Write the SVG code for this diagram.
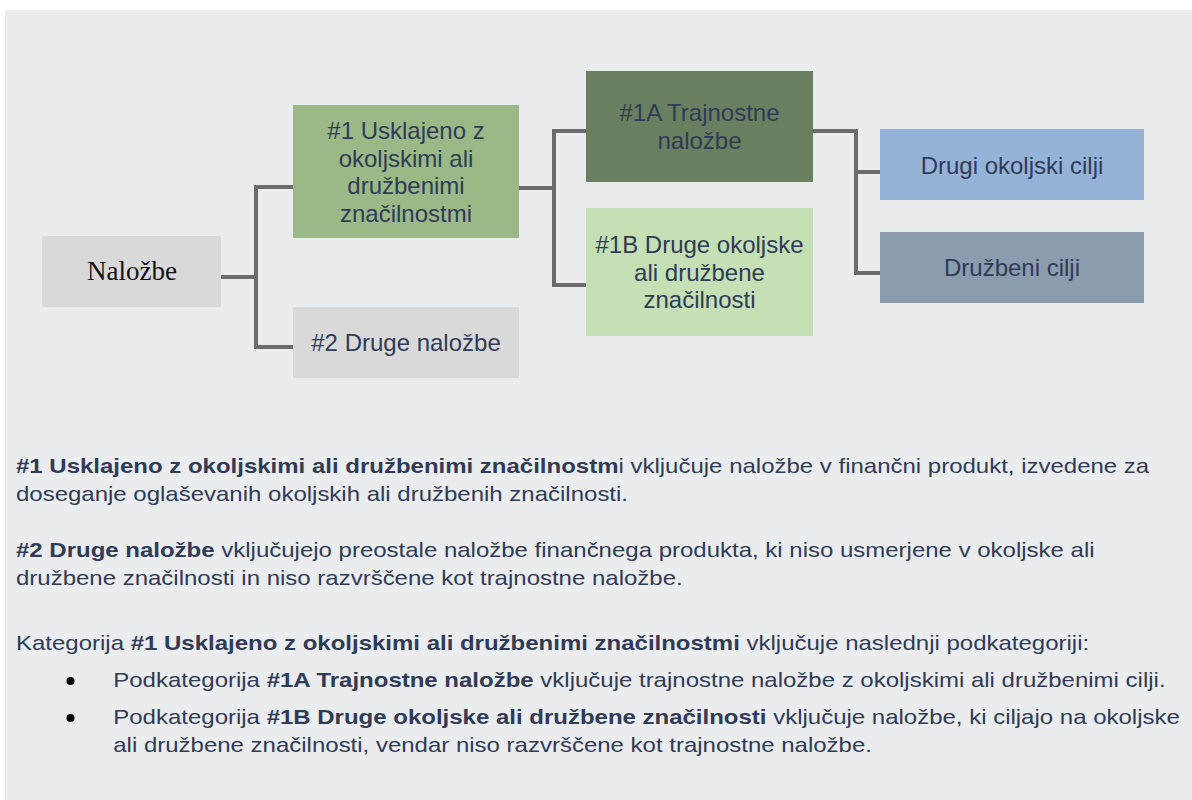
<svg xmlns="http://www.w3.org/2000/svg" width="1192" height="800" viewBox="0 0 1192 800">
<style>
.bx{font-family:"Liberation Sans",Arial,sans-serif;font-size:24px;fill:#2F3B57;text-anchor:middle}
.sf{font-family:"Liberation Serif","Times New Roman",serif;font-size:27px;fill:#111;text-anchor:middle}
.bt{font-family:"Liberation Sans",Arial,sans-serif;font-size:20px;fill:#2F3B57}
.b{font-weight:bold}
.con{fill:none;stroke:#6B6B6B;stroke-width:4}
</style>
<rect x="0" y="0" width="1192" height="800" fill="#FFFFFF"/>
<rect x="5" y="10" width="1187" height="790" fill="#EBECEE"/>
<g id="connectors">
<path class="con" d="M221 277 H256 M256 185 V349 M256 187 H293 M256 347 H293"/>
<path class="con" d="M519 188 H554 M554 129 V287 M554 131 H586 M554 285 H586"/>
<path class="con" d="M813 131 H856 M856 129 V275 M856 172 H880 M856 273 H880"/>
</g>
<g id="nalozbe">
<rect x="42" y="236" width="179" height="71" fill="#D9D9D9"/>
<text class="sf" x="132" y="280">Naložbe</text>
</g>
<g id="n1">
<rect x="293" y="105" width="226" height="133" fill="#9AB987"/>
<text class="bx" x="406" y="139">#1 Usklajeno z</text>
<text class="bx" x="406" y="167">okoljskimi ali</text>
<text class="bx" x="406" y="194">družbenimi</text>
<text class="bx" x="406" y="222">značilnostmi</text>
</g>
<g id="n2">
<rect x="293" y="307" width="226" height="71" fill="#D9D9D9"/>
<text class="bx" x="406" y="351">#2 Druge naložbe</text>
</g>
<g id="n1a">
<rect x="586" y="71" width="227" height="111" fill="#6A7F5F"/>
<text class="bx" x="699.5" y="121">#1A Trajnostne</text>
<text class="bx" x="699.5" y="149">naložbe</text>
</g>
<g id="n1b">
<rect x="586" y="208" width="227" height="128" fill="#C5E0B4"/>
<text class="bx" x="699.5" y="253">#1B Druge okoljske</text>
<text class="bx" x="699.5" y="281">ali družbene</text>
<text class="bx" x="699.5" y="308">značilnosti</text>
</g>
<g id="drugi">
<rect x="880" y="129" width="264" height="71" fill="#95B3D7"/>
<text class="bx" x="1012" y="174">Drugi okoljski cilji</text>
</g>
<g id="druzbeni">
<rect x="880" y="232" width="264" height="71" fill="#8A9CAE"/>
<text class="bx" x="1012" y="276">Družbeni cilji</text>
</g>
<g id="legend">
<circle cx="70.5" cy="681" r="4" fill="#000"/>
<circle cx="70.5" cy="718" r="4" fill="#000"/>
<g transform="scale(1.2,1)">
<text class="bt" x="13.33" y="473"><tspan class="b">#1 Usklajeno z okoljskimi ali družbenimi značilnostm</tspan>i vključuje naložbe v finančni produkt, izvedene za</text>
<text class="bt" x="13.33" y="501">doseganje oglaševanih okoljskih ali družbenih značilnosti.</text>
<text class="bt" x="13.33" y="557"><tspan class="b">#2 Druge naložbe</tspan> vključujejo preostale naložbe finančnega produkta, ki niso usmerjene v okoljske ali</text>
<text class="bt" x="13.33" y="585">družbene značilnosti in niso razvrščene kot trajnostne naložbe.</text>
<text class="bt" x="13.33" y="650">Kategorija <tspan class="b">#1 Usklajeno z okoljskimi ali družbenimi značilnostmi</tspan> vključuje naslednji podkategoriji:</text>
<text class="bt" x="94.4" y="687">Podkategorija <tspan class="b">#1A Trajnostne naložbe</tspan> vključuje trajnostne naložbe z okoljskimi ali družbenimi cilji.</text>
<text class="bt" x="94.4" y="724">Podkategorija <tspan class="b">#1B Druge okoljske ali družbene značilnosti</tspan> vključuje naložbe, ki ciljajo na okoljske</text>
<text class="bt" x="94.4" y="752">ali družbene značilnosti, vendar niso razvrščene kot trajnostne naložbe.</text>
</g>
</g>
</svg>
